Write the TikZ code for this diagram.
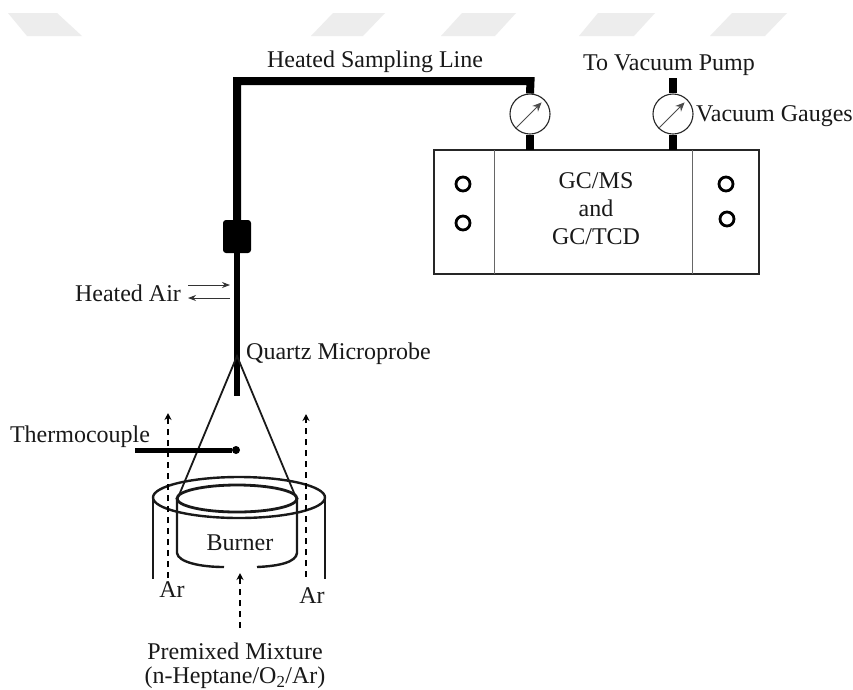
\documentclass[tikz,border=0pt]{standalone}
\usepackage{fontspec}
\setmainfont{Liberation Serif}
\usetikzlibrary{arrows.meta}
\tikzset{
  lab/.style={inner sep=0pt,font=\fontsize{24}{26}\selectfont,text=black!90,align=center},
  pipe/.style={line width=8pt,black},
  gauge/.style={circle,draw=black!85,line width=1.1pt,minimum size=40pt,inner sep=0pt,fill=white},
  hole/.style={circle,draw=black,line width=2.8pt,minimum size=14pt,inner sep=0pt},
  wall/.style={line width=2.4pt,black!90},
  thin1/.style={line width=1.8pt,black!90},
  flow/.style={line width=1.6pt,black,dash pattern=on 6pt off 5pt,-{Stealth[length=7pt,width=7pt]}},
  needle/.style={line width=.8pt,black!70,-{Stealth[length=9pt,width=8pt]}},
  air/.style={line width=.8pt,black!80,-{Stealth[length=8pt,width=6pt]}}
}
\begin{document}
\begin{tikzpicture}[x=1pt,y=-1pt]
\useasboundingbox (0,0) rectangle (853,689);
\fill[white] (0,0) rectangle (853,689);
% watermark
\fill[black!7] (8,13)--(57,13)--(82,36)--(27,36)--cycle;
\fill[black!7] (333,13)--(385,13)--(363,36)--(311,36)--cycle;
\fill[black!7] (462,13)--(516,13)--(495,36)--(441,36)--cycle;
\fill[black!7] (598,13)--(655,13)--(634,36)--(579,36)--cycle;
\fill[black!7] (732,13)--(787,13)--(765,36)--(710,36)--cycle;
% GC box
\node[draw=black!85,line width=1.8pt,minimum width=325pt,minimum height=124pt,inner sep=0pt] (gc) at (596.5,212) {};
\coordinate (divLt) at (494,150); \coordinate (divLb) at (494,274);
\coordinate (divRt) at (692,150); \coordinate (divRb) at (692,274);
\draw[black!60,line width=.8pt] (divLt) -- (divLb);
\draw[black!60,line width=.8pt] (divRt) -- (divRb);
\node[hole] (h1) at (463,184) {};
\node[hole] (h2) at (463,223) {};
\node[hole] (h3) at (726,184) {};
\node[hole] (h4) at (727,219) {};
\node[lab] (t1) at (596,181) {GC/MS};
\node[lab] (t2) at (596,208) {and};
\node[lab] (t3) at (596,237) {GC/TCD};
% gauges
\node[gauge] (g1) at (530,114) {};
\node[gauge] (g2) at (673,114) {};
\coordinate (g1b) at (530,150); \coordinate (g2b) at (673,150);
\coordinate (g2t) at (673,78);
\draw[pipe] (g1.south) -- (g1b);
\draw[pipe] (g2.south) -- (g2b);
\draw[pipe] (g2.north) -- (g2t);
\draw[needle] (g1.south west) ++(1,-1) -- ([shift={(-3,3)}]g1.north east);
\draw[needle] (g2.south west) ++(1,-1) -- ([shift={(-3,3)}]g2.north east);
% sampling line
\coordinate (corner) at (237,81);
\coordinate (corner2) at (530.5,81);
\node[fill=black,rounded corners=3pt,minimum width=28pt,minimum height=33pt,inner sep=0pt] (conn) at (237,236.5) {};
\draw[pipe,line join=miter] (conn.center) -- (corner) -- (corner2) -- (g1.north);
\coordinate (tip) at (237,396);
\draw[line width=5.5pt,black] (conn.south) -- (tip);
% heated air
\coordinate (a1) at (188,285); \coordinate (a2) at (230,285);
\coordinate (a3) at (230,298); \coordinate (a4) at (188,298);
\draw[air] (a1) -- (a2);
\draw[air] (a3) -- (a4);
\node[lab] (ha) at (128,293) {Heated Air};
\node[lab,anchor=west] (qm) at (246,354) {Quartz Microprobe};
\node[lab] (hsl) at (375,62) {Heated Sampling Line};
\node[lab] (vp) at (669,65) {To Vacuum Pump};
\node[lab,anchor=west] (vg) at (696,116) {Vacuum Gauges};
% burner
\coordinate (apex) at (237,356);
\coordinate (cl) at (177,500); \coordinate (cr) at (297,500);
\draw[thin1] (cl) -- (apex) -- (cr);
\draw[wall] (239,497.5) ellipse [x radius=86,y radius=20.5];
\draw[line width=2.8pt,black!90] (237,498.5) ellipse [x radius=60,y radius=13.5];
\coordinate (ol) at (153,497); \coordinate (olb) at (153,579);
\coordinate (or) at (325,497); \coordinate (orb) at (325,579);
\draw[line width=2.8pt,black!90] (ol) -- (olb);
\draw[line width=2.8pt,black!90] (or) -- (orb);
\coordinate (il) at (177,498); \coordinate (ilb) at (177,553); \coordinate (ile) at (224,567);
\coordinate (ir) at (297,498); \coordinate (irb) at (297,553); \coordinate (ire) at (257,567);
\draw[wall] (il) -- (ilb) .. controls (178,562) and (200,567) .. (ile);
\draw[wall] (ir) -- (irb) .. controls (296,562) and (280,566) .. (ire);
\node[lab] (bu) at (240,543) {Burner};
% thermocouple
\node[circle,fill=black,minimum size=8pt,inner sep=0pt] (tc) at (236,450) {};
\coordinate (tcs) at (135,450);
\draw[line width=5pt,black] (tcs) -- (tc);
\node[lab] (tct) at (80,437) {Thermocouple};
% flows
\coordinate (f1a) at (168,578); \coordinate (f1b) at (168,413);
\coordinate (f2a) at (306,577); \coordinate (f2b) at (306,414);
\coordinate (f3a) at (240,628); \coordinate (f3b) at (240,573);
\draw[flow] (f1a) -- (f1b);
\draw[flow] (f2a) -- (f2b);
\draw[flow] (f3a) -- (f3b);
\node[lab] (ar1) at (172,590) {Ar};
\node[lab] (ar2) at (312,596) {Ar};
\node[lab] (pm) at (235,651) {Premixed Mixture};
\node[lab] (hp) at (235,677.5) {(n-Heptane/O\textsubscript{2}/Ar)};
\end{tikzpicture}
\end{document}
